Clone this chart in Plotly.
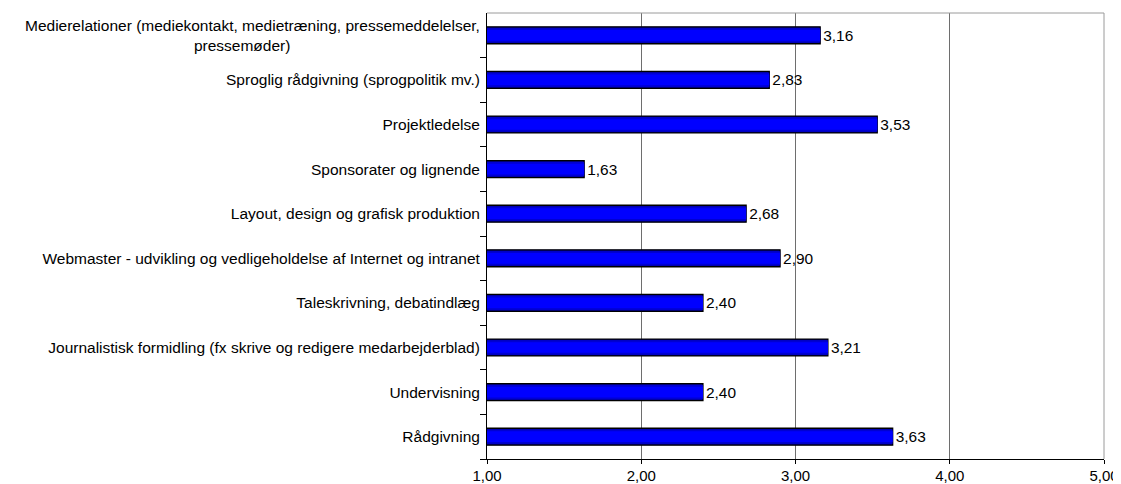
import plotly.graph_objects as go

categories = [
    "Medierelationer (mediekontakt, medietræning, pressemeddelelser,",
    "Sproglig rådgivning (sprogpolitik mv.)",
    "Projektledelse",
    "Sponsorater og lignende",
    "Layout, design og grafisk produktion",
    "Webmaster - udvikling og vedligeholdelse af Internet og intranet",
    "Taleskrivning, debatindlæg",
    "Journalistisk formidling (fx skrive og redigere medarbejderblad)",
    "Undervisning",
    "Rådgivning",
]
second_line = "pressemøder)"
values = [3.16, 2.83, 3.53, 1.63, 2.68, 2.90, 2.40, 3.21, 2.40, 3.63]
x_ticks = [1, 2, 3, 4, 5]

ticktext = list(categories)
ticktext[0] = categories[0] + "<br>" + second_line + "\u00a0" * 44

FONT = "Arial, Liberation Sans, sans-serif"
FS = 15.5

fig = go.Figure()
# main bar (dark edge of the shaded bar) with outline and value label
fig.add_trace(go.Bar(
    y=categories, x=values, orientation="h",
    marker=dict(color="#00009A", line=dict(color="black", width=1.3)),
    width=0.38,
    texttemplate="%{x:.2f}", textposition="outside",
    textfont=dict(family=FONT, size=FS, color="black"),
    cliponaxis=False,
))
# inner shading layers to mimic the gradient fill
for w, c in [(0.32, "#0000D2"), (0.24, "#0000FF")]:
    fig.add_trace(go.Bar(
        y=categories, x=values, orientation="h",
        marker=dict(color=c, line=dict(width=0)),
        width=w, hoverinfo="skip", textposition="none",
    ))

# page body has an 8px margin, so the figure is sized to fit the window
fig.update_layout(
    width=1113, height=476,
    margin=dict(l=479, r=17, t=5, b=25),
    plot_bgcolor="white", paper_bgcolor="white",
    separators=",.",
    showlegend=False,
    barmode="overlay",
    font=dict(family=FONT, size=FS, color="black"),
)
fig.update_xaxes(
    range=[1, 5], tickvals=x_ticks, tickformat=".2f",
    showgrid=True, gridcolor="#6e6e6e", gridwidth=1,
    showline=True, linecolor="black", linewidth=1,
    ticks="outside", ticklen=4, tickcolor="black",
    zeroline=False, automargin=False, ticklabelstandoff=-1,
    ticklabeloverflow="allow",
    tickfont=dict(family=FONT, size=15),
)
fig.update_yaxes(
    categoryorder="array", categoryarray=categories[::-1],
    tickvals=categories, ticktext=ticktext,
    tickson="boundaries", ticks="outside", ticklen=6, tickcolor="black",
    showline=True, linecolor="black", linewidth=1,
    showgrid=False, automargin=False, ticklabelstandoff=3,
    tickfont=dict(family=FONT, size=FS),
)
# gray top/right plot border
fig.add_shape(type="line", xref="paper", yref="paper", x0=0, x1=1, y0=1, y1=1,
              line=dict(color="#9a9a9a", width=1))
fig.add_shape(type="line", xref="paper", yref="paper", x0=1, x1=1, y0=0, y1=1,
              line=dict(color="#9a9a9a", width=1))

fig.write_html("out.html")
